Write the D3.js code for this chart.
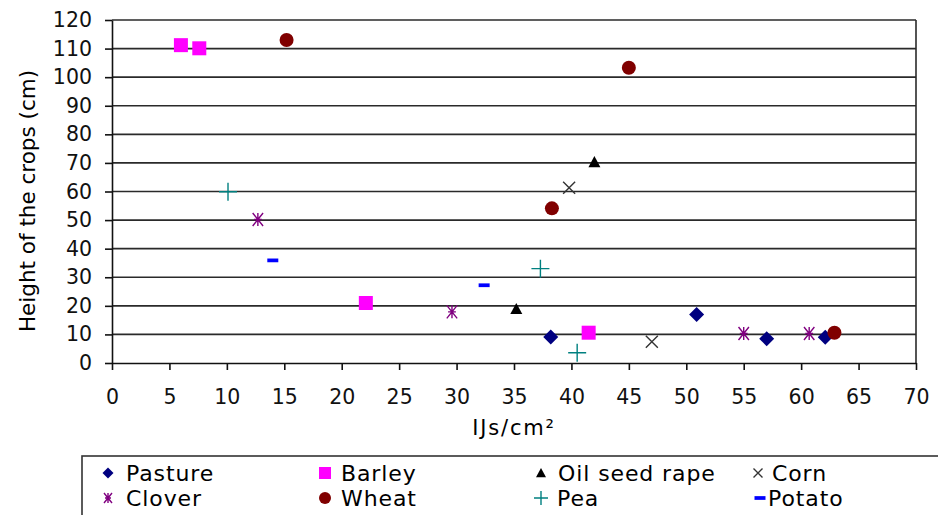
<!DOCTYPE html>
<html lang="en">
<head>
<meta charset="utf-8">
<title>Crop height vs IJs/cm²</title>
<script src="https://cdn.jsdelivr.net/npm/d3@7"></script>
<style>
    body { margin: 0; background: #fff; }
    text { font-family: "DejaVu Sans", Verdana, sans-serif; fill: #000; }
</style>
</head>
<body>
<script>
"use strict";

// series data: [IJs/cm², height cm]
const pasture = [[38.2, 9.1], [50.9, 17.0], [57.0, 8.5], [62.1, 9.0]];
const barley = [[6.0, 111.2], [7.6, 110.1], [22.1, 21.0], [41.5, 10.6]];
const oilSeedRape = [[42.0, 70.3], [35.2, 18.9]];
const corn = [[39.8, 61.3], [47.0, 7.4]];
const clover = [[12.7, 50.2], [29.6, 17.9], [55.0, 10.3], [60.7, 10.3]];
const wheat = [[15.2, 113.0], [45.0, 103.3], [38.3, 54.1], [62.9, 10.6]];
const pea = [[10.1, 59.9], [37.3, 33.0], [40.5, 3.6]];
const potato = [[14.0, 35.9], [32.4, 27.2]];

const xTicks = [0, 5, 10, 15, 20, 25, 30, 35, 40, 45, 50, 55, 60, 65, 70];
const yTicks = [0, 10, 20, 30, 40, 50, 60, 70, 80, 90, 100, 110, 120];

const series = [
    { name: "Pasture", data: pasture, shape: "diamond", color: "#000080" },
    { name: "Barley", data: barley, shape: "square", color: "#ff00ff" },
    { name: "Oil seed rape", data: oilSeedRape, shape: "triangle", color: "#000000" },
    { name: "Corn", data: corn, shape: "x", color: "#333333" },
    { name: "Clover", data: clover, shape: "star", color: "#800080" },
    { name: "Wheat", data: wheat, shape: "circle", color: "#800000" },
    { name: "Pea", data: pea, shape: "plus", color: "#008080" },
    { name: "Potato", data: potato, shape: "dash", color: "#0000ff" }
];

const w = 938, h = 515;
const plotL = 112, plotR = 916, plotT = 20, plotB = 363;

const x = d3.scaleLinear().domain([0, 70]).range([plotL, plotR]);
const y = d3.scaleLinear().domain([0, 120]).range([plotB, plotT]);

const svg = d3.select("body").append("svg")
    .attr("width", w)
    .attr("height", h);

// grid lines
svg.append("g")
    .selectAll("line")
    .data(yTicks.filter(d => d > 0))
    .enter().append("line")
    .attr("x1", plotL).attr("x2", plotR)
    .attr("y1", d => y(d)).attr("y2", d => y(d))
    .style("stroke", "#2a2a2a")
    .style("stroke-width", 1.6);

// right border
svg.append("line")
    .attr("x1", plotR).attr("x2", plotR)
    .attr("y1", plotT).attr("y2", plotB)
    .style("stroke", "#2a2a2a").style("stroke-width", 1.6);

// axes
const xAxis = svg.append("g")
    .attr("transform", "translate(0," + plotB + ")")
    .call(d3.axisBottom(x).tickValues(xTicks).tickSize(7).tickPadding(19).tickSizeOuter(0));
const yAxis = svg.append("g")
    .attr("transform", "translate(" + plotL + ",0)")
    .call(d3.axisLeft(y).tickValues(yTicks).tickSize(7).tickPadding(13).tickSizeOuter(0));

[xAxis, yAxis].forEach(function(a) {
    a.selectAll("path, line").style("stroke", "#111").style("stroke-width", 1.6);
    a.selectAll("text")
        .style("font-family", "'DejaVu Sans', Verdana, sans-serif")
        .style("font-size", "20.5px")
        .style("fill", "#111");
});

// axis titles
svg.append("text")
    .attr("x", (plotL + plotR) / 2)
    .attr("y", 435)
    .attr("text-anchor", "middle")
    .style("font-size", "21px")
    .style("letter-spacing", "1.8px")
    .text("IJs/cm²");

svg.append("text")
    .attr("transform", "translate(27,201) rotate(-90)")
    .attr("text-anchor", "middle")
    .attr("dy", "0.35em")
    .style("font-size", "21.5px")
    .text("Height of the crops (cm)");

// marker paths centred on 0,0, s = overall size
function markerPath(shape, s) {
    const r = s / 2;
    const p = d3.path();
    if (shape === "diamond") {
        p.moveTo(0, -r); p.lineTo(r, 0); p.lineTo(0, r); p.lineTo(-r, 0); p.closePath();
    } else if (shape === "square") {
        p.rect(-r, -r, s, s);
    } else if (shape === "triangle") {
        p.moveTo(0, -r); p.lineTo(r, r * 0.85); p.lineTo(-r, r * 0.85); p.closePath();
    } else if (shape === "circle") {
        p.arc(0, 0, r, 0, 2 * Math.PI);
    } else if (shape === "x") {
        p.moveTo(-r, -r); p.lineTo(r, r); p.moveTo(r, -r); p.lineTo(-r, r);
    } else if (shape === "plus") {
        p.moveTo(-r, 0); p.lineTo(r, 0); p.moveTo(0, -r); p.lineTo(0, r);
    } else if (shape === "star") {
        p.moveTo(-r * 0.8, -r); p.lineTo(r * 0.8, r); p.moveTo(r * 0.8, -r); p.lineTo(-r * 0.8, r);
        p.moveTo(0, -r); p.lineTo(0, r);
        p.moveTo(-r * 0.6, 0); p.lineTo(r * 0.6, 0);
    } else if (shape === "dash") {
        p.rect(-r, -s * 0.17, s, s * 0.34);
    }
    return p.toString();
}

const filled = { diamond: true, square: true, triangle: true, circle: true, dash: true };
const plotSize = { diamond: 15, square: 14, triangle: 12, circle: 14, x: 12, plus: 18, star: 13, dash: 11 };
const legSize = { diamond: 11, square: 12, triangle: 10, circle: 12, x: 9, plus: 14, star: 10, dash: 11 };

function styleMarker(sel, d) {
    if (filled[d.shape]) {
        sel.style("fill", d.color).style("stroke", "none");
    } else {
        sel.style("fill", "none").style("stroke", d.color).style("stroke-width", 1.4);
    }
}

// points
series.forEach(function(s) {
    svg.append("g")
        .selectAll("path")
        .data(s.data)
        .enter().append("path")
        .attr("transform", d => "translate(" + x(d[0]) + "," + y(d[1]) + ")")
        .attr("d", markerPath(s.shape, plotSize[s.shape]))
        .each(function() { styleMarker(d3.select(this), s); });
});

// legend
const legend = svg.append("g");
legend.append("rect")
    .attr("x", 82).attr("y", 456)
    .attr("width", 880).attr("height", 80)
    .style("fill", "#fff")
    .style("stroke", "#333")
    .style("stroke-width", 1.6);

const colX = [108, 325, 541, 758];
const rowY = [473, 498];
const textOff = [18, 16, 17, 14, 18, 16, 16, 8];

series.forEach(function(s, i) {
    const col = i % 4, row = Math.floor(i / 4);
    const mx = (i === 7) ? 760 : colX[col];
    const item = legend.append("g")
        .attr("transform", "translate(" + mx + "," + rowY[row] + ")");
    item.append("path")
        .attr("d", markerPath(s.shape, legSize[s.shape]))
        .each(function() { styleMarker(d3.select(this), s); });
    item.append("text")
        .attr("x", textOff[i])
        .attr("dy", "0.36em")
        .style("font-size", "22px")
        .style("letter-spacing", "0.9px")
        .text(s.name);
});
</script>
</body>
</html>
